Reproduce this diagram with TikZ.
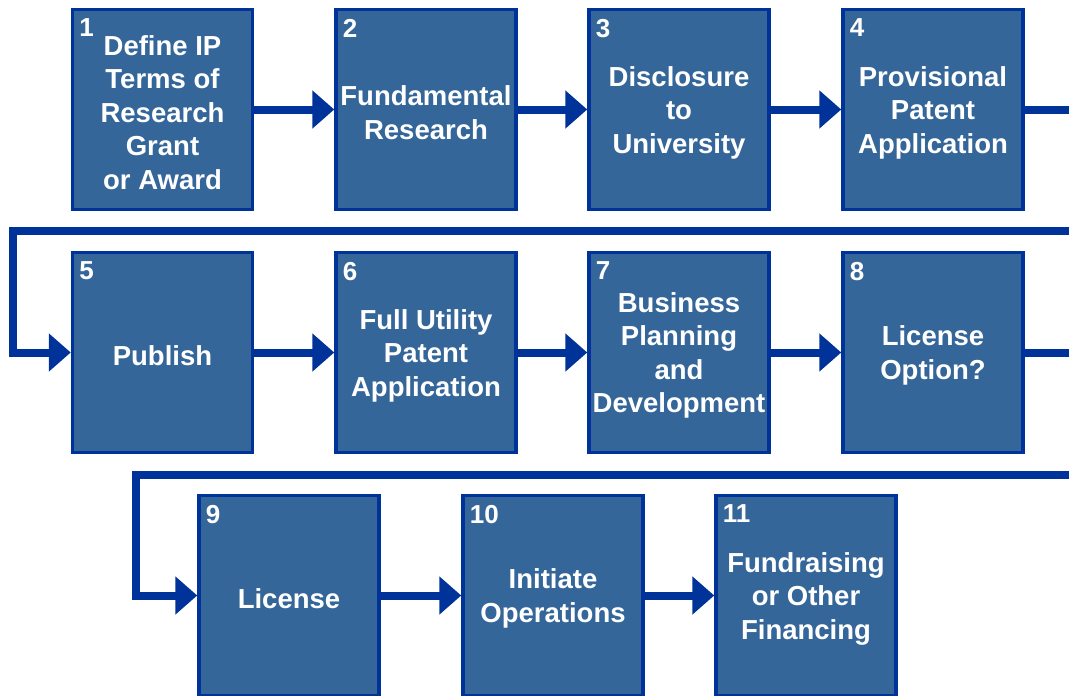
\documentclass[tikz,border=0pt]{standalone}
\usepackage{fontspec}
\setmainfont{Liberation Sans}
\usetikzlibrary{arrows.meta}
\definecolor{boxfill}{RGB}{53,102,153}
\definecolor{boxline}{RGB}{0,51,153}
\tikzset{
  box/.style={draw=boxline, fill=boxfill, line width=3.5pt, minimum width=180pt, minimum height=200pt, inner sep=0pt},
  boxtext/.style={inner sep=0pt, text=white, align=center, font=\fontsize{27.5}{33.5}\selectfont\bfseries},
  num/.style={anchor=north west, inner sep=0pt, text=white, font=\fontsize{26}{30}\selectfont\bfseries},
  flow/.style={draw=boxline, line width=8pt, -{Triangle[length=22pt,width=37pt]}}
}
\begin{document}
\begin{tikzpicture}[x=1pt,y=-1pt]
\clip (0,0) rectangle (1069,696);
\fill[white] (0,0) rectangle (1069,696);
% boxes
\node[box] (b1) at (162.5,109.5) {};
\node[box] (b2) at (426,109.5) {};
\node[box] (b3) at (679,109.5) {};
\node[box] (b4) at (933,109.5) {};
\node[box] (b5) at (162.5,352.5) {};
\node[box] (b6) at (426,352.5) {};
\node[box] (b7) at (679,352.5) {};
\node[box] (b8) at (933,352.5) {};
\node[box] (b9) at (289,595.5) {};
\node[box] (b10) at (553,595.5) {};
\node[box] (b11) at (806,595.5) {};
% texts
\foreach \b/\t in {b1/{Define IP\\Terms of\\Research\\Grant\\or Award},
                   b2/{Fundamental\\Research},
                   b3/{Disclosure\\to\\University},
                   b4/{Provisional\\Patent\\Application},
                   b5/{Publish},
                   b6/{Full Utility\\Patent\\Application},
                   b7/{Business\\Planning\\and\\Development},
                   b8/{License\\Option?},
                   b9/{License},
                   b10/{Initiate\\Operations},
                   b11/{Fundraising\\or Other\\Financing}}
  \node[boxtext] (t\b) at ([yshift=-3pt]\b.center) {\t};
% numbers
\foreach \b/\n in {b1/1,b2/2,b3/3,b4/4,b5/5,b6/6,b7/7,b8/8,b9/9,b10/10,b11/11}
  \node[num] (n\n) at ([xshift=8.5pt,yshift=-11pt]\b.north west) {\n};
% connectors
\draw[flow] (b1.east) -- (b2.west);
\draw[flow] (b2.east) -- (b3.west);
\draw[flow] (b3.east) -- (b4.west);
\coordinate (r1) at (1095,109.5);
\coordinate (l1) at (13,231);
\draw[flow] (b4.east) -- (r1) |- (l1) |- (b5.west);
\draw[flow] (b5.east) -- (b6.west);
\draw[flow] (b6.east) -- (b7.west);
\draw[flow] (b7.east) -- (b8.west);
\coordinate (r2) at (1095,352.5);
\coordinate (l2) at (136,475);
\draw[flow] (b8.east) -- (r2) |- (l2) |- (b9.west);
\draw[flow] (b9.east) -- (b10.west);
\draw[flow] (b10.east) -- (b11.west);
\end{tikzpicture}
\end{document}
